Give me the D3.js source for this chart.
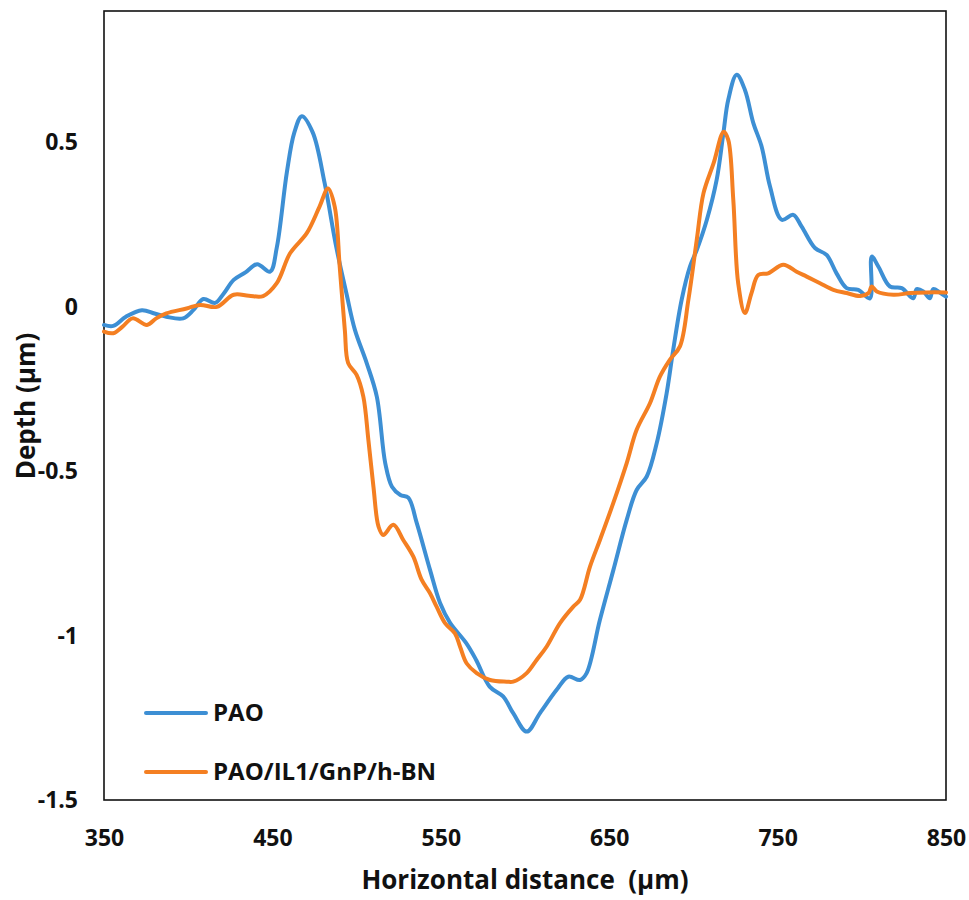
<!DOCTYPE html>
<html>
<head>
<meta charset="utf-8">
<script src="https://cdn.jsdelivr.net/npm/d3@7"></script>
<style>
  body { margin: 0; background: #fff; }
  text { font-family: "Open Sans", sans-serif; font-weight: bold; fill: #111; }
</style>
</head>
<body>
<svg id="chart" width="969" height="900"></svg>
<script>
const W = 969, H = 900

// depth profiles (x in um, depth in um)
const paoX = [350, 355.5, 363, 372.5, 380, 387, 397, 403, 409, 416, 421, 427, 434, 441, 448.6, 452.6, 458.6, 463, 467.5, 474, 481, 488, 494, 499, 506, 512, 517, 521, 526, 530.7, 535.7, 543.6, 549.5, 555.5, 565, 571, 579, 587, 593, 601, 609, 618.8, 625.7, 632.7, 636.6, 644.5, 652.5, 660.4, 666.3, 672.3, 678.2, 684.1, 688, 693, 698, 702, 708, 713.8, 717.8, 720.7, 725.7, 730.6, 735.6, 740.5, 745.5, 752.4, 759.3, 764.3, 772.2, 779.1, 785, 791, 797.9, 804.8, 805.9, 809.8, 816.7, 823.7, 830.6, 832.6, 836.5, 840.4, 842.4, 846.3, 850]
const paoY = [-0.055, -0.058, -0.03, -0.01, -0.02, -0.03, -0.035, -0.01, 0.024, 0.012, 0.04, 0.082, 0.105, 0.13, 0.107, 0.18, 0.41, 0.53, 0.58, 0.53, 0.377, 0.18, 0.04, -0.07, -0.171, -0.273, -0.475, -0.547, -0.572, -0.58, -0.657, -0.80, -0.90, -0.961, -1.022, -1.074, -1.155, -1.185, -1.236, -1.292, -1.235, -1.165, -1.125, -1.135, -1.114, -0.952, -0.80, -0.648, -0.557, -0.516, -0.415, -0.263, -0.131, 0.021, 0.123, 0.173, 0.265, 0.386, 0.528, 0.63, 0.706, 0.66, 0.559, 0.488, 0.366, 0.265, 0.28, 0.244, 0.179, 0.158, 0.102, 0.057, 0.052, 0.026, 0.153, 0.123, 0.062, 0.057, 0.026, 0.054, 0.047, 0.026, 0.054, 0.044, 0.031]

const hybX = [350, 355.5, 361, 367, 375.5, 381, 387, 399, 407, 417, 427, 436, 444.5, 452.6, 460.5, 470.5, 478, 483, 487, 490, 493, 495, 500, 504, 507, 510, 513, 515.8, 521.8, 527.7, 533.7, 538.6, 543.6, 547.5, 552.5, 558.4, 561.4, 565.3, 571.3, 579.2, 589.1, 593, 601, 606.9, 612.9, 620.8, 628.7, 632.7, 638.6, 644.5, 652.4, 660.4, 666.3, 674.2, 680.1, 686, 692, 697, 702, 706, 712, 718, 720.7, 723.7, 726.6, 730.6, 734.5, 738.5, 744.4, 753.4, 761.3, 767.3, 775.2, 783.1, 791, 799, 804, 805.9, 808.9, 818.8, 828.7, 838.5, 850]
const hybY = [-0.075, -0.08, -0.06, -0.035, -0.055, -0.035, -0.02, -0.005, 0.006, 0.0, 0.037, 0.034, 0.033, 0.072, 0.163, 0.225, 0.305, 0.36, 0.305, 0.12, -0.07, -0.171, -0.207, -0.273, -0.405, -0.547, -0.668, -0.694, -0.663, -0.709, -0.76, -0.83, -0.871, -0.912, -0.962, -0.993, -1.033, -1.084, -1.114, -1.135, -1.14, -1.14, -1.114, -1.074, -1.033, -0.962, -0.912, -0.891, -0.79, -0.709, -0.597, -0.475, -0.374, -0.293, -0.212, -0.161, -0.12, 0.021, 0.204, 0.346, 0.437, 0.533, 0.508, 0.325, 0.072, -0.019, 0.042, 0.097, 0.102, 0.128, 0.107, 0.092, 0.072, 0.052, 0.042, 0.033, 0.042, 0.062, 0.047, 0.037, 0.042, 0.044, 0.044]

const xTicks = [350, 450, 550, 650, 750, 850]
const yTicks = [0.5, 0, -0.5, -1, -1.5]
const seriesNames = ['PAO', 'PAO/IL1/GnP/h-BN']
const seriesColors = ['#3d8fd4', '#f47f22']

const margin = {left: 104, right: W - 946, top: 11, bottom: H - 800}

const svg = d3.select('#chart')

const x = d3.scaleLinear().domain([350, 850]).range([margin.left, W - margin.right])
const y = d3.scaleLinear().domain([-1.5, 0.9]).range([H - margin.bottom, margin.top])

// frame
svg.append('rect')
    .attr('x', x(350)).attr('y', y(0.9))
    .attr('width', x(850) - x(350)).attr('height', y(-1.5) - y(0.9))
    .attr('fill', 'none').attr('stroke', '#111').attr('stroke-width', 1.6)

// axes, labels only
const xAxis = d3.axisBottom(x).tickValues(xTicks).tickSize(0).tickPadding(30).tickFormat(d3.format('d'))
svg.append('g').attr('transform', `translate(0,${y(-1.5)})`).call(xAxis)
    .call(g => g.select('.domain').remove())
    .selectAll('text').style('font-size', '23px')

const yAxis = d3.axisLeft(y).tickValues(yTicks).tickSize(0).tickPadding(26).tickFormat(d => d3.format('')(d).replace('−', '-'))
svg.append('g').attr('transform', `translate(${x(350)},0)`).call(yAxis)
    .call(g => g.select('.domain').remove())
    .selectAll('text').style('font-size', '23px')

// axis titles
svg.append('text')
    .attr('x', 525).attr('y', 889)
    .attr('text-anchor', 'middle')
    .attr('xml:space', 'preserve')
    .style('white-space', 'pre')
    .style('font-size', '26px')
    .text('Horizontal distance  (\u03bcm)')

svg.append('text')
    .attr('transform', 'translate(35,406) rotate(-90)')
    .attr('text-anchor', 'middle')
    .style('font-size', '26px')
    .text('Depth (\u03bcm)')

// lines
const lineGenerator = d3.line()
    .x(d => x(d[0]))
    .y(d => y(d[1]))
    .curve(d3.curveCatmullRom.alpha(0.5))

const series = [
    d3.zip(paoX, paoY),
    d3.zip(hybX, hybY)
]

svg.selectAll('path.series')
    .data(series)
    .enter()
    .append('path')
    .attr('class', 'series')
    .attr('d', lineGenerator)
    .attr('fill', 'none')
    .attr('stroke', (d, i) => seriesColors[i])
    .attr('stroke-width', 4)
    .attr('stroke-linejoin', 'round')
    .attr('stroke-linecap', 'round')

// legend
const legend = svg.append('g')
seriesNames.forEach((name, i) => {
    const ly = 713 + i * 59
    legend.append('line')
        .attr('x1', 146).attr('x2', 206)
        .attr('y1', ly).attr('y2', ly)
        .attr('stroke', seriesColors[i]).attr('stroke-width', 4)
        .attr('stroke-linecap', 'round')
    legend.append('text')
        .attr('x', 213).attr('y', ly)
        .attr('dy', '0.35em')
        .style('font-size', '24px')
        .text(name)
})
</script>
</body>
</html>
